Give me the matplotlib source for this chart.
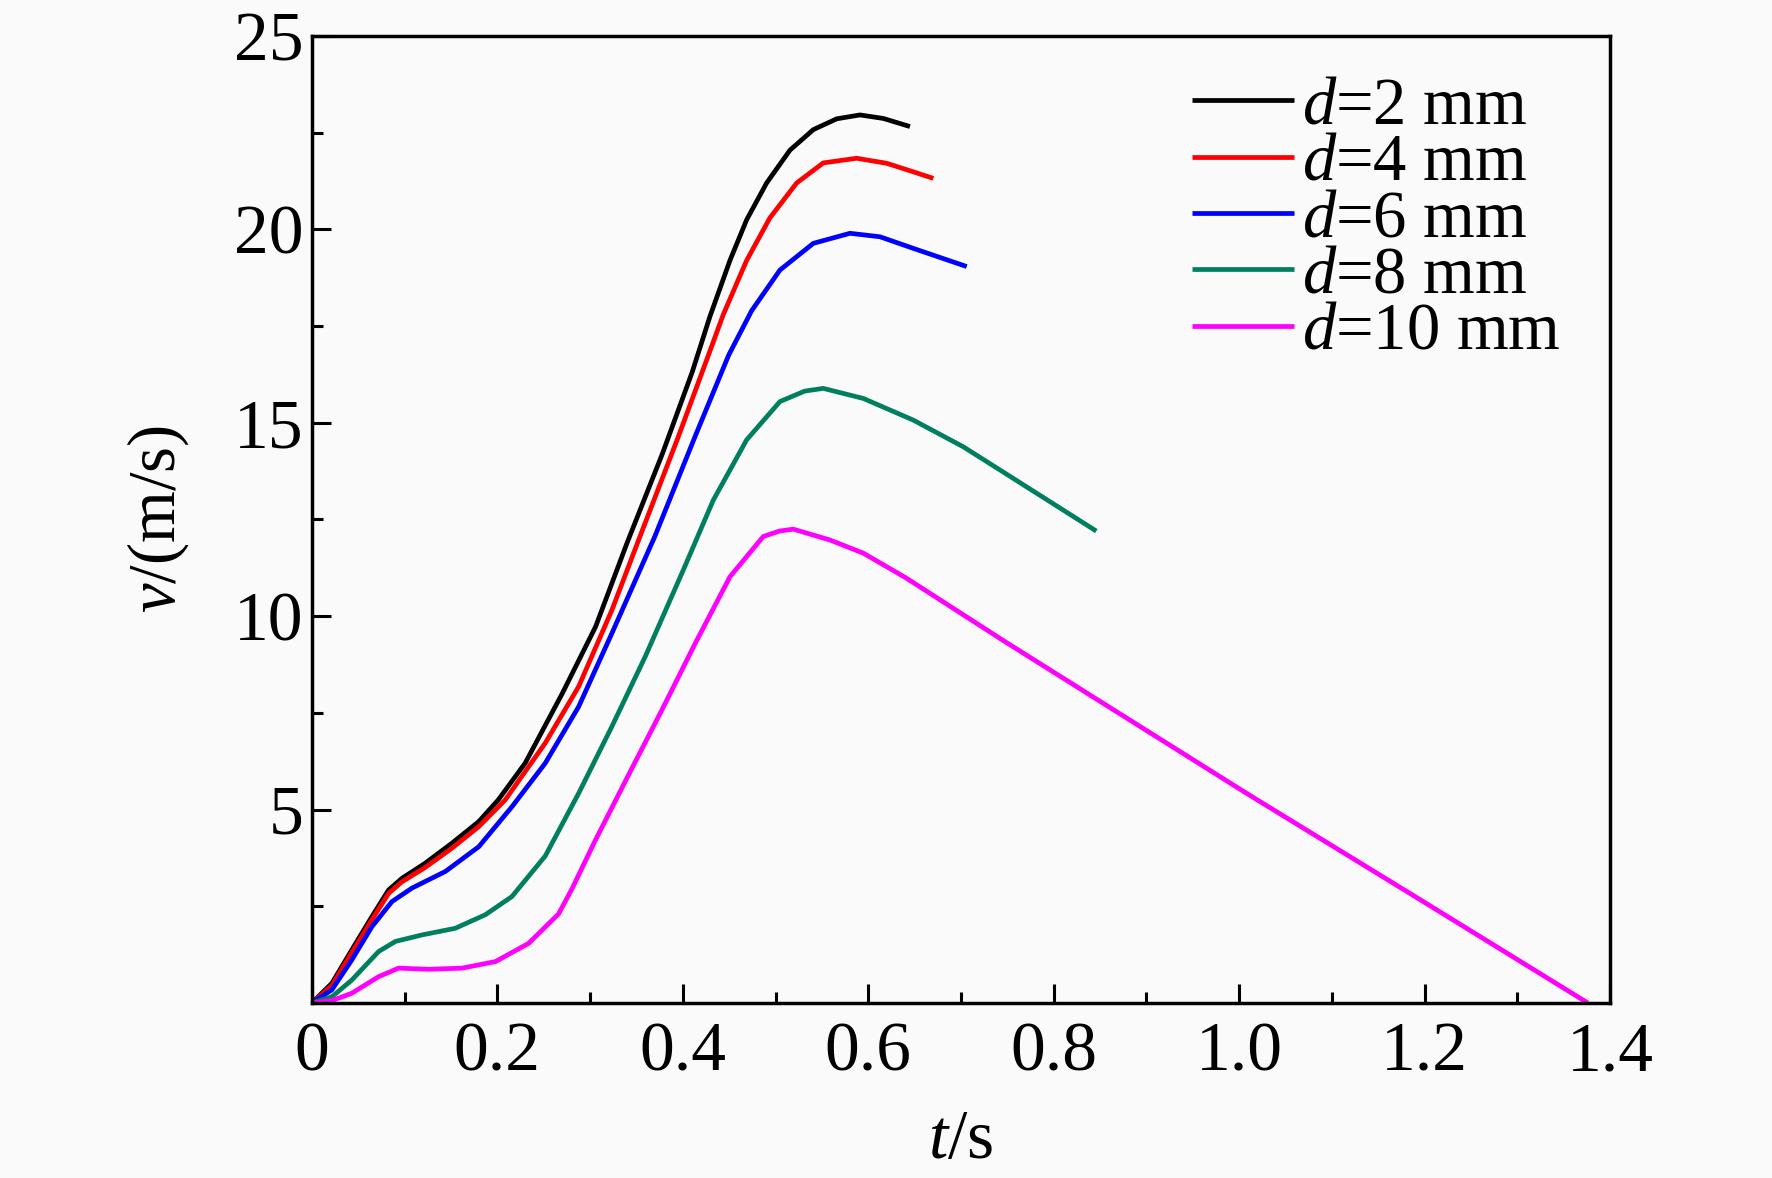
import numpy as np
import matplotlib
matplotlib.use('Agg')
import matplotlib.pyplot as plt
from matplotlib.ticker import MultipleLocator

# velocity curves, t in s, v in m/s
t_d2 = [0, 0.0216, 0.043, 0.0647, 0.0827, 0.097, 0.122, 0.151, 0.18, 0.201, 0.23, 0.27,
        0.306, 0.34, 0.378, 0.41, 0.4293, 0.4509, 0.4689, 0.4904, 0.5156, 0.5408, 0.566,
        0.5911, 0.6162, 0.645]
v_d2 = [0, 0.51, 1.37, 2.23, 2.92, 3.22, 3.61, 4.13, 4.69, 5.25, 6.2, 8.0,
        9.73, 11.9, 14.2, 16.3, 17.75, 19.2, 20.25, 21.2, 22.05, 22.58, 22.86,
        22.96, 22.87, 22.66]

t_d4 = [0, 0.0216, 0.043, 0.0647, 0.0827, 0.097, 0.122, 0.151, 0.18, 0.2085, 0.2517, 0.2877,
        0.3236, 0.354, 0.3955, 0.4315, 0.4437, 0.4689, 0.494, 0.5228, 0.5515, 0.5875,
        0.6199, 0.6486, 0.6702]
v_d4 = [0, 0.45, 1.3, 2.15, 2.83, 3.13, 3.5, 4.0, 4.56, 5.25, 6.72, 8.18,
        10.16, 12.07, 14.66, 17.0, 17.8, 19.2, 20.3, 21.2, 21.72, 21.84,
        21.71, 21.49, 21.32]

t_d6 = [0, 0.0216, 0.043, 0.0647, 0.0863, 0.108, 0.144, 0.18, 0.216, 0.2517, 0.2877, 0.3236,
        0.37, 0.4135, 0.4495, 0.4743, 0.5048, 0.5408, 0.5803, 0.6127, 0.6486, 0.7062]
v_d6 = [0, 0.34, 1.11, 1.97, 2.62, 2.97, 3.4, 4.04, 5.08, 6.2, 7.66, 9.56,
        12.07, 14.66, 16.75, 17.9, 18.95, 19.64, 19.9, 19.81, 19.51, 19.04]

t_d8 = [0, 0.0216, 0.043, 0.072, 0.09, 0.119, 0.1546, 0.187, 0.2157, 0.2517, 0.2877, 0.3236,
        0.3596, 0.4005, 0.4329, 0.4689, 0.5048, 0.5315, 0.5515, 0.5947, 0.6486, 0.7025,
        0.7421, 0.8, 0.846]
v_d8 = [0, 0.16, 0.59, 1.33, 1.59, 1.76, 1.93, 2.28, 2.75, 3.8, 5.42, 7.15,
        8.96, 11.19, 13.0, 14.56, 15.55, 15.82, 15.89, 15.63, 15.07, 14.38,
        13.78, 12.9, 12.2]

t_d10 = [0, 0.0216, 0.043, 0.072, 0.0935, 0.126, 0.162, 0.198, 0.2337, 0.266, 0.2805, 0.3056,
         0.3416, 0.3776, 0.4135, 0.4509, 0.4868, 0.504, 0.5192, 0.5587, 0.5947, 0.6414,
         0.745, 1.006, 1.2, 1.376]
v_d10 = [0, 0.06, 0.25, 0.68, 0.9, 0.87, 0.9, 1.07, 1.54, 2.3, 2.95, 4.2,
         5.9, 7.58, 9.3, 11.02, 12.06, 12.2, 12.25, 11.97, 11.63, 10.98,
         9.38, 5.45, 2.6, 0]

labels = ['$\\mathit{d}$=2 mm', '$\\mathit{d}$=4 mm', '$\\mathit{d}$=6 mm',
          '$\\mathit{d}$=8 mm', '$\\mathit{d}$=10 mm']
colors = ['#000000', '#ff0000', '#0000ff', '#007f5f', '#ff00ff']
x_ticks = [0, 0.2, 0.4, 0.6, 0.8, 1.0, 1.2, 1.4]
x_tick_labels = ['0', '0.2', '0.4', '0.6', '0.8', '1.0', '1.2', '1.4']
y_ticks = [5, 10, 15, 20, 25]

plt.rcParams['font.family'] = ['Liberation Serif', 'DejaVu Serif']
plt.rcParams['mathtext.fontset'] = 'custom'
plt.rcParams['mathtext.rm'] = 'Liberation Serif'
plt.rcParams['mathtext.it'] = 'Liberation Serif:italic'

fig = plt.figure(figsize=(17.72, 11.78), dpi=100, facecolor='#fafafa')
ax = fig.add_axes([0.176, 0.1486, 0.7326, 0.8208], facecolor='#fafafa')

series = [(t_d2, v_d2), (t_d4, v_d4), (t_d6, v_d6), (t_d8, v_d8), (t_d10, v_d10)]
for (t, v), lab, c in zip(series, labels, colors):
    ax.plot(t, v, color=c, lw=3.4, label=lab, solid_capstyle='butt',
            solid_joinstyle='round')

ax.set_xlim(0, 1.4)
ax.set_ylim(0, 25)
ax.set_xticks(x_ticks)
ax.set_xticklabels(x_tick_labels)
ax.set_yticks(y_ticks)
ax.xaxis.set_minor_locator(MultipleLocator(0.1))
ax.yaxis.set_minor_locator(MultipleLocator(2.5))
ax.tick_params(which='both', direction='in', width=2.2, labelsize=50)
ax.tick_params(which='major', length=14)
ax.tick_params(which='minor', length=8)
ax.tick_params(axis='y', pad=6)
ax.tick_params(axis='x', pad=14)
for sp in ax.spines.values():
    sp.set_linewidth(2.5)

ax.set_xlabel('$\\mathit{t}$/s', fontsize=50, labelpad=17)
ax.set_ylabel('$\\mathit{v}$/(m/s)', fontsize=48, labelpad=31)

ax.legend(loc='upper left', bbox_to_anchor=(0.678, 0.958), frameon=False,
          fontsize=48, handlelength=1.53, handletextpad=0.12, labelspacing=-0.07,
          borderpad=0, borderaxespad=0)

fig.savefig('out.png', dpi=100, facecolor=fig.get_facecolor())
